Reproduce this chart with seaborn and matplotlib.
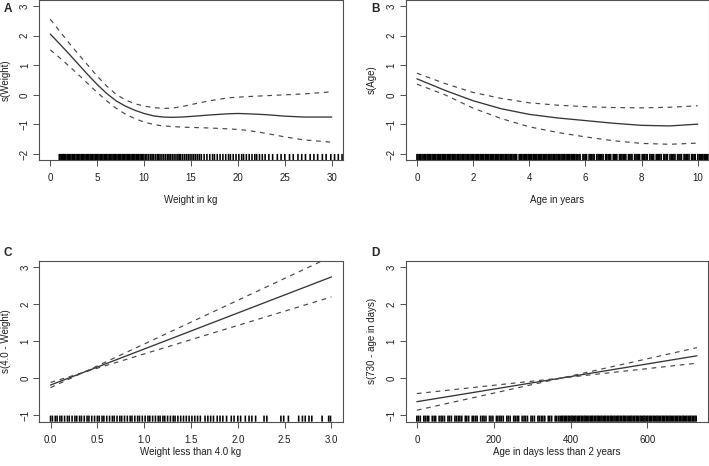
import matplotlib
matplotlib.use("Agg")
import matplotlib.pyplot as plt
import seaborn as sns
import numpy as np

sns.set_style("white")
plt.rcParams["font.family"] = ["Liberation Sans", "DejaVu Sans"]

# ---- panel A: s(Weight) ----
a_x = [0, 1, 2, 3, 4, 5, 6, 7, 8, 9, 10, 11, 12, 13, 14, 15, 17, 19, 20, 21, 23, 25, 27, 30]
a_fit = [2.05, 1.72, 1.38, 1.03, 0.68, 0.35, 0.05, -0.2, -0.38, -0.52, -0.63, -0.71, -0.75, -0.76,
         -0.75, -0.73, -0.68, -0.64, -0.63, -0.64, -0.67, -0.72, -0.75, -0.75]
a_hi = [2.55, 2.15, 1.75, 1.37, 1.0, 0.63, 0.3, 0.02, -0.17, -0.3, -0.38, -0.43, -0.46, -0.45,
        -0.4, -0.33, -0.2, -0.1, -0.08, -0.06, -0.03, 0.0, 0.03, 0.1]
a_lo = [1.52, 1.25, 0.97, 0.68, 0.38, 0.08, -0.2, -0.45, -0.65, -0.8, -0.92, -1.0, -1.05, -1.07,
        -1.09, -1.1, -1.12, -1.15, -1.17, -1.2, -1.3, -1.42, -1.52, -1.6]
a_rug = [0.96, 1.05, 1.18, 1.3, 1.38, 1.45,
         1.52, 1.66, 1.8, 1.93, 2.07, 2.2, 2.34, 2.48, 2.61, 2.75, 2.89, 3.02, 3.16, 3.3, 3.43,
         3.57, 3.7, 3.84, 3.98, 4.11, 4.25, 4.39, 4.52, 4.66, 4.8, 4.93, 5.07, 5.2, 5.34, 5.48,
         5.61, 5.75, 5.89, 6.02, 6.16, 6.3, 6.43, 6.57, 6.7, 6.84, 6.98, 7.11, 7.25, 7.39, 7.52,
         7.66, 7.8, 7.93, 8.07, 8.2, 8.34, 8.48, 8.61, 8.75, 8.89, 9.02, 9.16, 9.3, 9.43, 9.57,
         9.7, 9.84, 9.98,
         10.15, 10.3, 10.5, 10.7, 10.85, 11.0, 11.2, 11.4, 11.55, 11.7, 11.9, 12.1, 12.3, 12.5,
         12.65, 12.8, 13.0, 13.2, 13.4, 13.6, 13.75, 13.9, 14.1, 14.3, 14.5, 14.7, 14.9, 15.1,
         15.3, 15.5, 15.7, 15.9,
         16.1, 16.4, 16.7, 17.0, 17.3, 17.5, 17.8, 18.1, 18.4, 18.7, 19.0, 19.2, 19.5, 19.8,
         20.1, 20.4, 20.6, 20.9, 21.2, 21.5, 21.8, 22.0, 22.3, 22.6, 22.9,
         23.3, 23.7, 24.2, 24.6, 25.0, 25.5, 25.9, 26.4, 26.8, 27.2, 27.7, 28.1, 28.5, 29.0,
         29.4, 29.9, 30.3, 30.7, 31.1]

# ---- panel B: s(Age) ----
b_x = [0, 1, 2, 3, 4, 5, 6, 7, 8, 9, 10]
b_fit = [0.54, 0.15, -0.2, -0.47, -0.66, -0.78, -0.87, -0.96, -1.03, -1.05, -0.99]
b_hi = [0.73, 0.38, 0.08, -0.12, -0.27, -0.35, -0.4, -0.43, -0.44, -0.42, -0.37]
b_lo = [0.36, 0.0, -0.45, -0.8, -1.08, -1.27, -1.42, -1.55, -1.64, -1.67, -1.63]
b_rug = [0.00, 0.04, 0.09, 0.13, 0.18, 0.22, 0.27, 0.31, 0.36, 0.40, 0.45, 0.49, 0.54, 0.58,
         0.63, 0.67, 0.72, 0.76, 0.81, 0.85, 0.90, 0.94, 0.99, 1.03, 1.08, 1.12, 1.17, 1.21,
         1.26, 1.30, 1.35, 1.39, 1.44, 1.48, 1.53, 1.57, 1.62, 1.66, 1.71, 1.75, 1.80, 1.84,
         1.89, 1.93, 1.98, 2.02, 2.07, 2.11, 2.16, 2.20, 2.25, 2.29, 2.34, 2.38, 2.43, 2.47,
         2.52, 2.56, 2.61, 2.65, 2.70, 2.74, 2.79, 2.83, 2.88, 2.92, 2.97, 3.01, 3.06, 3.10,
         3.15, 3.19, 3.24, 3.28, 3.33, 3.37, 3.42, 3.46, 3.51, 3.55, 3.64, 3.69, 3.73, 3.78,
         3.82, 3.87, 3.91, 3.96, 4.00, 4.05, 4.09, 4.14, 4.18, 4.23, 4.27, 4.32, 4.36, 4.41,
         4.45, 4.50, 4.54, 4.59, 4.63, 4.68, 4.72, 4.77, 4.81, 4.86, 4.90, 4.95, 4.99, 5.04,
         5.08, 5.13, 5.17, 5.22, 5.26, 5.31, 5.35, 5.40, 5.44, 5.49, 5.53, 5.58, 5.62, 5.67,
         5.72, 5.77, 5.81, 5.91, 5.95, 6.00, 6.04, 6.13, 6.18, 6.22, 6.27, 6.31, 6.40, 6.45,
         6.49, 6.54, 6.58, 6.63, 6.72, 6.76, 6.81, 6.85, 6.90, 6.99, 7.03, 7.08, 7.12, 7.21,
         7.26, 7.30, 7.35, 7.39, 7.44, 7.53, 7.57, 7.62, 7.66, 7.75, 7.80, 7.84, 7.89, 7.93,
         8.02, 8.07, 8.11, 8.16, 8.20, 8.29, 8.34, 8.38, 8.43, 8.52, 8.56, 8.61, 8.65, 8.70,
         8.79, 8.83, 8.88, 8.92, 9.01, 9.06, 9.10, 9.15, 9.19, 9.28, 9.33, 9.37, 9.42, 9.51,
         9.55, 9.60, 9.64, 9.69, 9.78, 9.82, 9.87, 9.91, 10.00, 10.05, 10.09, 10.14, 10.18,
         10.23, 10.27, 10.32, 10.36]

# ---- panel C: s(4.0 - Weight), linear ----
c_x = [0.0, 0.35, 3.0]
c_fit = [-0.18, 0.16, 2.74]
c_hi = [-0.25, 0.16, 3.29]
c_lo = [-0.11, 0.16, 2.20]
c_rug = [0.00, 0.02, 0.05, 0.07, 0.10, 0.12, 0.15, 0.18, 0.20, 0.23, 0.26, 0.28, 0.31, 0.33,
         0.36, 0.39, 0.41, 0.44, 0.47, 0.50, 0.52, 0.55, 0.57, 0.60, 0.63, 0.66, 0.68, 0.71,
         0.74, 0.76, 0.79, 0.82, 0.85, 0.87, 0.90, 0.93, 0.95, 0.98, 1.01, 1.04, 1.06, 1.09,
         1.12, 1.15, 1.17, 1.20, 1.22, 1.25, 1.28, 1.31, 1.33, 1.36, 1.39, 1.42, 1.45, 1.48,
         1.51, 1.54, 1.57, 1.60, 1.65, 1.68, 1.71, 1.74, 1.78, 1.81, 1.84, 1.88, 1.93, 1.96,
         2.00, 2.03, 2.08, 2.12, 2.15, 2.19, 2.28, 2.31, 2.46, 2.49, 2.54, 2.65, 2.69, 2.72,
         2.76, 2.79, 2.90, 2.97, 2.99]

# ---- panel D: s(730 - age in days), linear ----
d_x = [0, 377, 729]
d_fit = [-0.63, 0.01, 0.61]
d_hi = [-0.41, 0.01, 0.41]
d_lo = [-0.86, 0.01, 0.83]
d_rug = [0, 4, 9, 18, 22, 27, 31, 40, 45, 49, 58, 63, 67, 72, 81, 85, 90, 99, 103, 108, 112,
         117, 126, 130, 135, 144, 148, 153, 157, 166, 171, 175, 180, 189, 193, 198, 207, 211,
         216, 220, 225, 234, 238, 243, 252, 256, 261, 265, 274, 279, 283, 288, 297, 301, 306,
         315, 319, 324, 328, 333, 342, 346, 351, 360, 364, 369, 373,
         377, 380, 384, 387, 390, 394, 397, 401, 404, 407, 411, 414, 418, 421, 424, 428, 431,
         435, 438, 441, 445, 448, 452, 455, 458, 462, 465, 469, 472, 475, 479, 482, 486, 489,
         492, 496, 499, 503, 506, 509, 513, 516, 520, 523, 526, 530, 533, 537, 540, 543, 547,
         550, 554, 557, 560, 564, 567, 571, 574, 577, 581, 584, 588, 591, 594, 598, 601, 605,
         608, 611, 615, 618, 622, 625, 628, 632, 635, 639, 642, 645, 649, 652, 656, 659, 662,
         666, 669, 673, 676, 679, 683, 686, 690, 693, 696, 700, 703, 707, 710, 713, 717, 720,
         724, 727]

W, H = 709, 466
fig = plt.figure(figsize=(W / 100, H / 100), dpi=100)

panels = [
    # letter, letter pos (px), axes rect (px: left, bottom-from-top, width, height), x, fit, hi, lo, rug,
    # xlim, ylim, xticks, yticks, xlabel, ylabel, tick format, xlabel offset (px below axes)
    ("A", (8, 9), (39, 160, 304, 160), a_x, a_fit, a_hi, a_lo, a_rug, (-1.2, 31.2), (-2.2, 3.2),
     [0, 5, 10, 15, 20, 25, 30], [-2, -1, 0, 1, 2, 3], "Weight in kg", "s(Weight)", None, 40),
    ("B", (375.5, 9), (405.7, 160, 303.3, 160), b_x, b_fit, b_hi, b_lo, b_rug, (-0.4, 10.4), (-2.2, 3.2),
     [0, 2, 4, 6, 8, 10], [-2, -1, 0, 1, 2, 3], "Age in years", "s(Age)", None, 40),
    ("C", (8, 253), (39.3, 421.7, 303.4, 160.7), c_x, c_fit, c_hi, c_lo, c_rug, (-0.12, 3.12), (-1.17, 3.17),
     [0, 0.5, 1, 1.5, 2, 2.5, 3], [-1, 0, 1, 2, 3], "Weight less than 4.0 kg", "s(4.0 - Weight)", "%.1f", 30),
    ("D", (375.5, 253), (405.7, 421.7, 302, 160.7), d_x, d_fit, d_hi, d_lo, d_rug, (-29, 757), (-1.17, 3.17),
     [0, 200, 400, 600], [-1, 0, 1, 2, 3], "Age in days less than 2 years", "s(730 - age in days)", None, 30),
]

fs = 7
edge = "#505050"
txt = "#1e1e1e"
for (letter, (lx, ly), (l, b, w, h), x, fit, hi, lo, rug, xlim, ylim, xt, yt,
     xlab, ylab, fmt, xoff) in panels:
    ax = fig.add_axes([l / W, 1 - b / H, w / W, h / H])
    sns.lineplot(x=x, y=fit, ax=ax, color="#363636", linewidth=0.95)
    for band in (hi, lo):
        sns.lineplot(x=x, y=band, ax=ax, color="#484848", linewidth=0.85, linestyle=(0, (4, 4)))
    sns.rugplot(x=rug, ax=ax, height=0.038, color="black", linewidth=1.15,
                expand_margins=False, snap=False, antialiased=True)
    ax.set_xlim(*xlim)
    ax.set_ylim(*ylim)
    ax.set_xticks(xt)
    ax.set_yticks(yt)
    if fmt:
        ax.set_xticklabels([fmt % v for v in xt])
    for s in ax.spines.values():
        s.set_visible(True)
        s.set_color(edge)
        s.set_linewidth(0.8)
    ax.tick_params(axis="both", direction="out", length=4, width=0.7, color=edge,
                   labelsize=fs, labelcolor=txt, bottom=True, left=True)
    ax.tick_params(axis="x", pad=5.5)
    ax.tick_params(axis="y", pad=2.5, labelrotation=90)
    for t in ax.get_yticklabels():
        t.set_va("center")
    ax.set_xlabel(xlab, fontsize=fs, color=txt, va="center")
    ax.xaxis.set_label_coords(0.5, -xoff / h)
    ax.set_ylabel(ylab, fontsize=fs, color=txt, va="center")
    ax.yaxis.set_label_coords(-33.5 / w, 0.5)
    fig.text(lx / W, 1 - ly / H, letter, fontsize=8.5, fontweight="bold",
             ha="center", va="center")

fig.savefig("out.png", dpi=100)
